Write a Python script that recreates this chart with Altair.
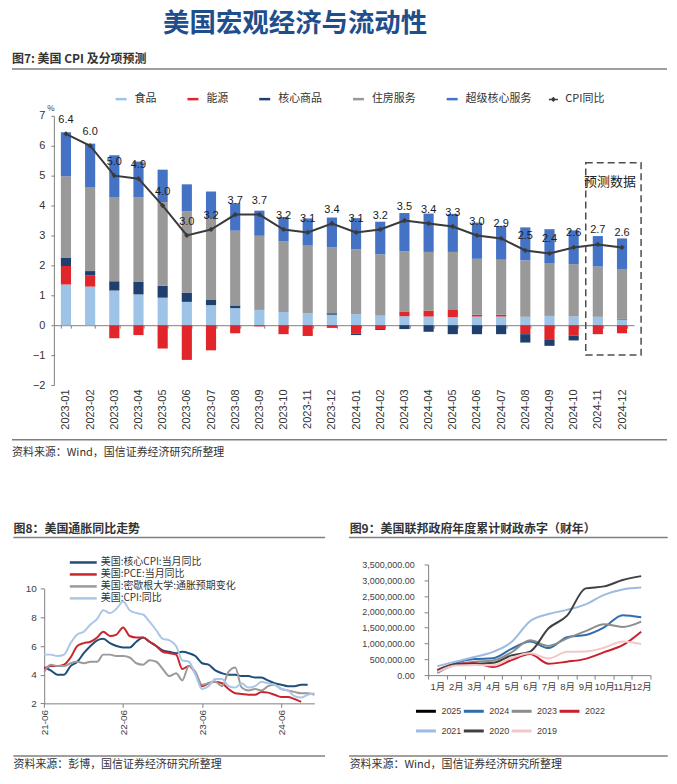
import altair as alt
import pandas as pd

# ---------------- 图7 data ----------------
months = ["2023-01", "2023-02", "2023-03", "2023-04", "2023-05", "2023-06",
          "2023-07", "2023-08", "2023-09", "2023-10", "2023-11", "2023-12",
          "2024-01", "2024-02", "2024-03", "2024-04", "2024-05", "2024-06",
          "2024-07", "2024-08", "2024-09", "2024-10", "2024-11", "2024-12"]
food = [1.36, 1.29, 1.16, 1.03, 0.92, 0.78, 0.67, 0.57, 0.51, 0.44, 0.40, 0.35,
        0.37, 0.32, 0.30, 0.29, 0.27, 0.29, 0.29, 0.28, 0.31, 0.29, 0.28, 0.19]
energy = [0.62, 0.37, -0.44, -0.33, -0.78, -1.16, -0.84, -0.27, -0.04, -0.30, -0.36, -0.09,
          -0.29, -0.13, 0.16, 0.20, 0.26, 0.06, 0.06, -0.30, -0.47, -0.35, -0.30, -0.27]
core_goods = [0.28, 0.15, 0.31, 0.43, 0.40, 0.31, 0.19, 0.09, 0.00, 0.00, 0.00, 0.05,
              -0.04, -0.03, -0.13, -0.22, -0.30, -0.30, -0.30, -0.28, -0.22, -0.16, 0.00, 0.03]
housing = [2.72, 2.81, 2.82, 2.81, 2.80, 2.72, 2.71, 2.50, 2.48, 2.37, 2.26, 2.21,
           2.17, 2.05, 2.01, 1.96, 1.92, 1.87, 1.84, 1.89, 1.77, 1.75, 1.68, 1.66]
supercore = [1.47, 1.45, 1.39, 1.20, 1.08, 0.90, 0.90, 0.92, 0.84, 0.81, 0.91, 0.99,
             1.04, 1.09, 1.28, 1.28, 1.27, 1.21, 1.13, 1.10, 1.13, 1.13, 1.02, 1.02]
cpi_yoy = [6.4, 6.0, 5.0, 4.9, 4.0, 3.0, 3.2, 3.7, 3.7, 3.2, 3.1, 3.4,
           3.1, 3.2, 3.5, 3.4, 3.3, 3.0, 2.9, 2.5, 2.4, 2.6, 2.7, 2.6]
components = ["食品", "能源", "核心商品", "住房服务", "超级核心服务"]
comp_colors = ["#9dc3e6", "#e0262b", "#1f3f6e", "#999999", "#4472c4"]

# ---------------- 图8 data ----------------
core_cpi = [4.5, 4.3, 4.0, 4.0, 4.6, 4.9, 5.5,
            6.0, 6.4, 6.5, 6.2, 6.0, 5.9, 5.9, 6.3, 6.6, 6.3, 6.0, 5.7,
            5.6, 5.5, 5.6, 5.5, 5.3, 4.8, 4.7, 4.3, 4.1, 4.0, 4.0, 3.9,
            3.9, 3.8, 3.8, 3.6, 3.4, 3.3, 3.2, 3.2, 3.3, 3.3]
pce = [4.4, 4.6, 4.6, 4.7, 5.2, 6.0, 6.2,
       6.3, 6.6, 7.0, 6.7, 6.8, 7.3, 6.7, 6.6, 6.6, 6.3, 6.0, 5.6,
       5.5, 5.4, 4.4, 4.6, 4.1, 3.2, 3.4, 3.5, 3.4, 3.0, 2.7, 2.65,
       2.6, 2.6, 2.8, 2.75, 2.6, 2.45, 2.45, 2.3, 2.1]
michigan = [4.2, 4.7, 4.6, 4.6, 4.8, 4.9, 4.8,
            4.9, 4.9, 5.4, 5.4, 5.3, 5.3, 5.2, 4.8, 4.7, 5.0, 4.9, 4.4,
            3.9, 4.1, 3.6, 4.6, 4.2, 3.3, 3.4, 3.5, 3.2, 4.2, 4.5, 3.1,
            2.9, 3.0, 2.9, 3.2, 3.3, 3.0, 2.9, 2.8, 2.7, 2.7, 2.6]
cpi_hist = [5.4, 5.4, 5.3, 5.4, 6.2, 6.8, 7.0,
            7.5, 7.9, 8.5, 8.3, 8.6, 9.1, 8.5, 8.3, 8.2, 7.7, 7.1, 6.5,
            6.4, 6.0, 5.0, 4.9, 4.0, 3.0, 3.2, 3.7, 3.7, 3.2, 3.1, 3.4,
            3.1, 3.2, 3.5, 3.4, 3.3, 3.0, 2.9, 2.5, 2.4, 2.6, 2.7]
names8 = ["美国:核心CPI:当月同比", "美国:PCE:当月同比", "美国:密歇根大学:通胀预期变化", "美国:CPI:同比"]
colors8 = ["#1f4e79", "#c9252c", "#9a9a9a", "#abc6e6"]

# ---------------- 图9 data ----------------
fy_months = ["1月", "2月", "3月", "4月", "5月", "6月", "7月", "8月", "9月", "10月", "11月", "12月"]
fy2025 = [257000]
fy2024 = [67000, 381000, 510000, 532000, 828000, 1065000, 855000, 1202000, 1268000, 1512000, 1897000, 1833000]
fy2023 = [88000, 337000, 421000, 460000, 722000, 1100000, 925000, 1165000, 1393000, 1613000, 1525000, 1695000]
fy2022 = [165000, 356000, 377000, 259000, 475000, 667000, 360000, 426000, 515000, 726000, 946000, 1375000]
fy2021 = [284000, 429000, 573000, 736000, 1047000, 1706000, 1932000, 2064000, 2238000, 2540000, 2711000, 2772000]
fy2020 = [134000, 343000, 357000, 389000, 624000, 743000, 1481000, 1880000, 2744000, 2807000, 3007000, 3132000]
fy2019 = [100000, 305000, 319000, 310000, 544000, 691000, 531000, 739000, 747000, 867000, 1067000, 984000]
years9 = ["2025", "2024", "2023", "2022", "2021", "2020", "2019"]
colors9 = ["#000000", "#2f6ead", "#8c8c8c", "#c8202c", "#9dbbe0", "#404040", "#f4c6c8"]

NUM = "Liberation Sans, Noto Sans CJK SC"
CJK = "Noto Sans CJK SC"
one = pd.DataFrame({"a": [0]})


def deco_text(text, x, y, size, weight="normal", align="left", baseline="middle", color="#222222", font=CJK):
    return alt.Chart(one).mark_text(text=text, fontSize=size, fontWeight=weight, align=align,
                                    baseline=baseline, color=color, font=font).encode(
        x=alt.value(x), y=alt.value(y))


def deco_rule(x1, x2, y, color="#7f7f7f", width=1.5):
    return alt.Chart(one).mark_rule(color=color, strokeWidth=width).encode(
        x=alt.value(x1), x2=alt.value(x2), y=alt.value(y))


# ================= 图7 main chart =================
W, H = 582, 270
OX, OY = 53, 115   # intended page position of plot origin
TITLE_Y = 10       # page y of the title's top
PAD_TOP = OY - 8 - (OY - TITLE_Y)
ymin, ymax = -2, 7
step = W / len(months)

rows = []
for i, m in enumerate(months):
    for k, arr in enumerate([food, energy, core_goods, housing, supercore]):
        rows.append({"month": m, "cat": components[k], "value": arr[i], "ord": k})
bars_df = pd.DataFrame(rows)
cpi_df = pd.DataFrame({"month": months, "cpi": cpi_yoy, "series": "CPI同比",
                       "label": [f"{v:.1f}" for v in cpi_yoy]})

xaxis7 = alt.Axis(title=None, labelAngle=-90, offset=-(H * (0 - ymin) / (ymax - ymin)),
                  labelPadding=61, tickSize=3, tickBand="extent", domainColor="#7f7f7f",
                  tickColor="#7f7f7f", labelColor="#333333", labelFontSize=11, labelFont=NUM)
xscale7 = alt.Scale(domain=months, paddingInner=0.58, paddingOuter=0.29)
yaxis7 = alt.Axis(title=None, values=list(range(ymin, ymax + 1)), tickSize=3, labelPadding=6,
                  grid=False, domainColor="#7f7f7f", tickColor="#7f7f7f", labelColor="#333333",
                  labelFontSize=11, labelFont=NUM)
yscale7 = alt.Scale(domain=[ymin, ymax], nice=False, zero=False)

bars = alt.Chart(bars_df).mark_bar().encode(
    x=alt.X("month:N", sort=months, scale=xscale7, axis=xaxis7),
    y=alt.Y("value:Q", scale=yscale7, axis=yaxis7, stack="zero"),
    color=alt.Color("cat:N", scale=alt.Scale(domain=components, range=comp_colors),
                    legend=alt.Legend(title=None, orient="none", legendX=62, legendY=-22.5,
                                      direction="horizontal", padding=0,
                                      symbolType="M-1.1,-0.25H1.1V0.25H-1.1Z", symbolSize=100,
                                      symbolStrokeWidth=0, labelOffset=8, columnPadding=31,
                                      labelFont=CJK, labelFontSize=11, labelColor="#333333")),
    order=alt.Order("ord:Q"),
)

xl = alt.X("month:N", sort=months, scale=xscale7, axis=xaxis7)
yl = alt.Y("cpi:Q", scale=yscale7, axis=yaxis7)
line = alt.Chart(cpi_df).mark_line(strokeWidth=2).encode(
    x=xl, y=yl,
    stroke=alt.Stroke("series:N", scale=alt.Scale(domain=["CPI同比"], range=["#3a3a3a"]),
                      legend=alt.Legend(title=None, orient="none", legendX=495, legendY=-22.5,
                                        padding=0, symbolType="M-0.9,0H0.9M-0.3,0L0,-0.3L0.3,0L0,0.3Z",
                                        symbolSize=100, symbolStrokeWidth=1.5, labelOffset=6,
                                        symbolFillColor="#3a3a3a",
                                        labelFont=CJK, labelFontSize=11, labelColor="#333333")),
)
pts = alt.Chart(cpi_df).mark_point(shape="diamond", filled=True, size=28, color="#3a3a3a", opacity=1).encode(
    x=xl, y=yl)
lbl = alt.Chart(cpi_df).mark_text(dy=-14, fontSize=11, font=NUM, color="#1a1a1a").encode(
    x=xl, y=yl, text="label:N")


def vy(v):
    return H * (ymax - v) / (ymax - ymin)


box = alt.Chart(one).mark_rect(filled=False, stroke="#4d4d4d", strokeWidth=1.5, strokeDash=[7, 4]).encode(
    x=alt.value(step * 22), x2=alt.value(step * 24 + 7), y=alt.value(vy(5.43)), y2=alt.value(vy(-1)))
box_text = deco_text("预测数据", step * 23, vy(4.8), 13, align="center")

top = alt.layer(
    bars, line, pts, lbl, box, box_text,
    deco_text("美国宏观经济与流动性", 295 - OX, TITLE_Y - OY, 26.5, weight="bold", align="center",
              baseline="top", color="#1f4e8c"),
    deco_text("图7: 美国 CPI 及分项预测", 11 - OX, 58 - OY, 12, weight="bold", color="#333333"),
    deco_rule(11 - OX, 668 - OX, 68 - OY),
    deco_text("%", 50 - OX, 108 - OY, 8, color="#333333", align="center"),
    deco_rule(11 - OX, 668 - OX, 440 - OY),
    deco_text("资料来源：Wind，国信证券经济研究所整理", 11 - OX, 453 - OY, 11, color="#333333"),
).properties(width=W, height=H)

# ================= 图8 =================
# plot rect starts at the same x as the main chart and the same y as 图9;
# the axes are placed inside it through explicit scale ranges
P8X, P8Y = 53, 565
AX8, TOP8, BOT8, RIGHT8 = 43.3, 589.3, 704.3, 314.3
W8, H8 = RIGHT8 - P8X, BOT8 - P8Y
dates = pd.date_range("2021-06-01", periods=42, freq="MS").strftime("%Y-%m-%d").tolist()
rows8 = []
for name, arr in zip(names8, [core_cpi, pce, michigan, cpi_hist]):
    for i, v in enumerate(arr):
        rows8.append({"date": dates[i], "value": v, "series": name})
df8 = pd.DataFrame(rows8)

lines8 = alt.Chart(df8).mark_line(strokeWidth=2, interpolate="monotone").encode(
    x=alt.X("date:T",
            scale=alt.Scale(domain=[alt.DateTime(year=2021, month=6, date=1),
                                    alt.DateTime(year=2024, month=11, date=1)],
                            range=[AX8 - P8X, W8]),
            axis=alt.Axis(title=None, values=[alt.DateTime(year=y, month=6, date=1) for y in [2021, 2022, 2023, 2024]],
                          format="%y-%m", labelAngle=-90, tickSize=4, labelPadding=2, grid=False,
                          domainColor="#7f7f7f", tickColor="#7f7f7f", labelColor="#404040",
                          labelFontSize=10, labelFont=NUM)),
    y=alt.Y("value:Q", scale=alt.Scale(domain=[2, 10], nice=False, zero=False, range=[H8, TOP8 - P8Y]),
            axis=alt.Axis(title=None, values=[2, 4, 6, 8, 10], tickSize=4, labelPadding=4, grid=False,
                          offset=P8X - AX8,
                          domainColor="#7f7f7f", tickColor="#7f7f7f", labelColor="#404040",
                          labelFontSize=10, labelFont=NUM)),
    color=alt.Color("series:N", sort=names8, scale=alt.Scale(domain=names8, range=colors8),
                    legend=alt.Legend(title=None, orient="none", legendX=76 - P8X, legendY=562 - 5.5 - P8Y,
                                      padding=0, symbolType="M-2.7,0H2.7", symbolSize=100,
                                      symbolStrokeWidth=2.5, labelOffset=11, rowPadding=-1,
                                      labelFont=CJK, labelFontSize=10, labelColor="#333333")),
)

p8 = alt.layer(
    lines8,
    deco_text("图8：美国通胀同比走势", 12.5 - P8X, 529 - P8Y, 12, weight="bold", color="#333333"),
    deco_rule(12.3 - P8X, 325 - P8X, 538 - P8Y),
    deco_rule(12.3 - P8X, 325 - P8X, 757 - P8Y),
    deco_text("资料来源：彭博，国信证券经济研究所整理", 12.5 - P8X, 766.5 - P8Y, 11, color="#333333"),
).properties(width=W8, height=H8)

# ================= 图9 =================
W9, H9 = 223, 111
O9X, O9Y = 427.7, 565
rows9 = []
for yname, arr in zip(years9, [fy2025, fy2024, fy2023, fy2022, fy2021, fy2020, fy2019]):
    for i, v in enumerate(arr):
        rows9.append({"m": fy_months[i], "value": v, "year": yname})
df9 = pd.DataFrame(rows9)

lines9 = alt.Chart(df9).mark_line(strokeWidth=2, interpolate="monotone").encode(
    x=alt.X("m:N", sort=fy_months, bandPosition=0.5,
            scale=alt.Scale(type="band", domain=fy_months, paddingInner=0, paddingOuter=0),
            axis=alt.Axis(title=None, labelAngle=0, tickBand="extent", tickSize=4, labelPadding=2,
                          labelOverlap=False, domainColor="#7f7f7f", tickColor="#7f7f7f",
                          labelColor="#404040", labelFontSize=9.5, labelFont=NUM)),
    y=alt.Y("value:Q", scale=alt.Scale(domain=[0, 3500000], nice=False),
            axis=alt.Axis(title=None, values=[i * 500000 for i in range(8)], format=",.2f",
                          tickSize=4, labelPadding=10, grid=False, domainColor="#7f7f7f",
                          tickColor="#7f7f7f", labelColor="#404040", labelFontSize=9, labelFont=NUM)),
    color=alt.Color("year:N", sort=years9, scale=alt.Scale(domain=years9, range=colors9),
                    legend=alt.Legend(title=None, orient="none", legendX=419 - O9X, legendY=711 - 5.5 - O9Y,
                                      direction="horizontal", padding=0, columns=4,
                                      symbolType="M-2,0H2", symbolSize=100,
                                      symbolStrokeWidth=3, labelOffset=9, columnPadding=-5, rowPadding=7,
                                      labelFont=NUM, labelFontSize=9, labelColor="#404040")),
)

p9 = alt.layer(
    lines9,
    deco_text("图9：美国联邦政府年度累计财政赤字（财年）", 349 - O9X, 529 - O9Y, 12, weight="bold", color="#333333"),
    deco_rule(348.3 - O9X, 668 - O9X, 538 - O9Y),
    deco_rule(348.3 - O9X, 668 - O9X, 757 - O9Y),
    deco_text("资料来源：Wind，国信证券经济研究所整理", 349 - O9X, 766.5 - O9Y, 11, color="#333333"),
).properties(width=W9, height=H9)

bottom = alt.hconcat(p8, p9, spacing=O9X - (P8X + W8), bounds="flush").resolve_scale(
    color="independent", stroke="independent")
chart = alt.vconcat(top, bottom, spacing=P8Y - (OY + H), bounds="flush").resolve_scale(
    color="independent", stroke="independent").properties(
    padding={"left": 3, "top": PAD_TOP, "right": 0, "bottom": 0},
    background="white",
).configure_view(stroke=None)

chart.save("out.html", embed_options={"renderer": "svg", "actions": False})
